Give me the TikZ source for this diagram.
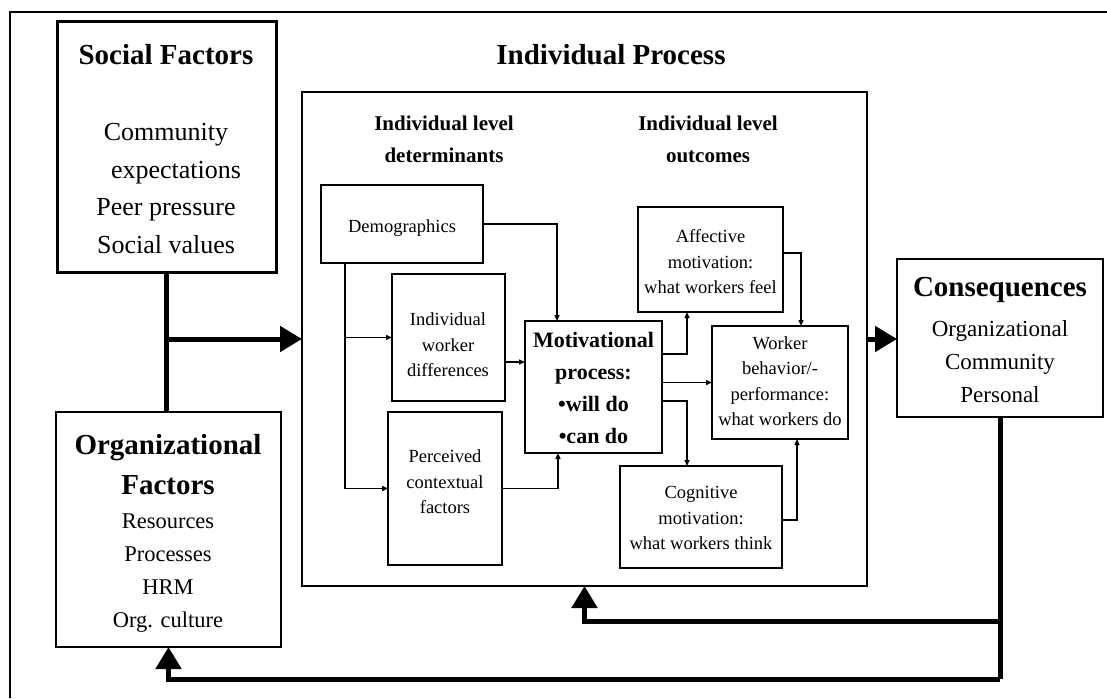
\documentclass[tikz,border=0pt]{standalone}
\usepackage{fontspec}
\setmainfont{Liberation Serif}
\usetikzlibrary{arrows.meta}
\begin{document}
\begin{tikzpicture}[x=1pt,y=-1pt,
  box/.style={draw,rectangle,line width=1.6pt,inner sep=0pt,outer sep=0pt},
  txt/.style={align=center,inner sep=0pt},
  head/.style={txt,font=\bfseries\fontsize{29}{40}\selectfont},
  sub/.style={txt,font=\bfseries\fontsize{21}{32}\selectfont},
  small/.style={txt,font=\fontsize{18.5}{25.5}\selectfont},
  link/.style={line width=1.4pt,-{Triangle[length=6pt,width=5pt]}},
  flow/.style={line width=5pt,-{Triangle[length=22pt,width=25pt]}},
  bar/.style={line width=5pt}]
\useasboundingbox (0,0) rectangle (1107,698);

% frame
\draw[line width=2pt] (10,698) -- (10,12) -- (1107,12);

% outer boxes
\node[box,line width=3pt,minimum width=219pt,minimum height=250pt] (social) at (166.5,147) {};
\node[box,minimum width=225pt,minimum height=235pt] (org) at (168.5,529.5) {};
\node[box,line width=1.5pt,minimum width=565pt,minimum height=494pt] (proc) at (584.5,339) {};
\node[box,minimum width=206pt,minimum height=158pt] (cons) at (1000,338) {};

% inner boxes
\node[box,minimum width=162pt,minimum height=78pt] (demo) at (402,224) {};
\node[box,minimum width=113pt,minimum height=127pt] (iwd) at (448.5,337.5) {};
\node[box,minimum width=114pt,minimum height=153pt] (pcf) at (445,488.5) {};
\node[box,minimum width=137pt,minimum height=132pt] (motiv) at (593.5,387) {};
\node[box,minimum width=145pt,minimum height=105pt] (aff) at (710.5,259.5) {};
\node[box,minimum width=136pt,minimum height=113pt] (work) at (780,382.5) {};
\node[box,minimum width=162pt,minimum height=102pt] (cog) at (701,517) {};

% texts
\node[head] (t-social) at (166,55) {Social Factors};
\node[txt,font=\fontsize{26}{37.7}\selectfont] (t-social-items) at (166,188.5)
  {Community\\\hspace*{20pt}expectations\\Peer pressure\\Social values};
\node[head] (t-org) at (168,465) {Organizational\\Factors};
\node[txt,font=\fontsize{22.5}{33}\selectfont] (t-org-items) at (168,573)
  {Resources\\Processes\\HRM\\Org. culture};
\node[head] (t-proc) at (611,55) {Individual Process};
\node[sub] (t-det) at (444,139) {Individual level\\determinants};
\node[sub] (t-out) at (708,139) {Individual level\\outcomes};
\node[head] (t-cons) at (1000,290) {Consequences};
\node[txt,font=\fontsize{23}{33}\selectfont] (t-cons-items) at (1000,362)
  {Organizational\\Community\\Personal};

\node[small] (t-demo) at (402,228) {Demographics};
\node[small] (t-iwd) at (448,345) {Individual\\worker\\differences};
\node[small] (t-pcf) at (445,482) {Perceived\\contextual\\factors};
\node[txt,font=\bfseries\fontsize{22}{32}\selectfont] (t-motiv) at (593.5,388)
  {Motivational\\process:\\•will do\\•can do};
\node[small] (t-aff) at (710.5,262) {Affective\\motivation:\\what workers feel};
\node[small] (t-work) at (780,381) {Worker\\behavior/-\\performance:\\what workers do};
\node[small] (t-cog) at (701,518) {Cognitive\\motivation:\\what workers think};

% thin links
\draw[link] (demo.east) -| ([xshift=-36.5pt]motiv.north);
\draw[line width=1.4pt] ([xshift=-57pt]demo.south) -- ([xshift=-57pt]demo.south |- pcf.west);
\draw[link] ([xshift=-57pt]demo.south |- iwd.west) -- (iwd.west);
\draw[link] ([xshift=-57pt]demo.south |- pcf.west) -- (pcf.west);
\coordinate (iwd-out) at ([yshift=-24.5pt]iwd.east);
\draw[link] (iwd-out) -- (iwd-out -| motiv.west);
\draw[link] (pcf.east) -| ([xshift=-35.5pt]motiv.south);
\draw[link] ([yshift=33pt]motiv.east) -| ([xshift=-23.5pt]aff.south);
\draw[link] (work.west -| motiv.east) -- (work.west);
\draw[link] ([yshift=-14pt]motiv.east) -| ([xshift=-14pt]cog.north);
\draw[link] ([yshift=6.5pt]aff.east) -| ([xshift=21pt]work.north);
\draw[link] ([yshift=-3pt]cog.east) -| ([xshift=17pt]work.south);

% thick flows
\draw[bar] (social.south) -- (social.south |- org.north);
\coordinate (join) at (social.south |- 0,339);
\draw[flow] ([xshift=-2.5pt]join) -- (join -| proc.west);
\draw[flow] (proc.east) -- (proc.east -| cons.west);
\coordinate (fb-up) at (cons.south |- 0,621);
\coordinate (fb-low) at (cons.south |- 0,679);
\draw[bar] (cons.south) -- (fb-low);
\draw[flow] (fb-up) -| (proc.south);
\draw[flow] (fb-low) -| (org.south);
\end{tikzpicture}
\end{document}
